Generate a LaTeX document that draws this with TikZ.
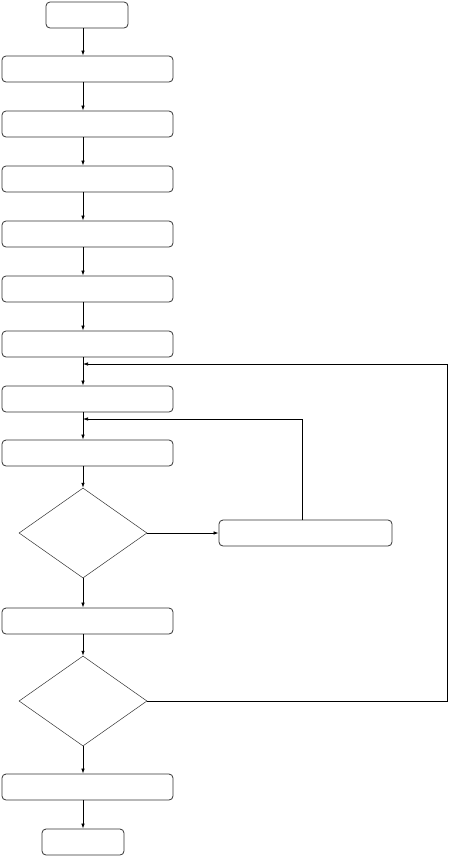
\documentclass[tikz,border=0pt]{standalone}
\usetikzlibrary{shapes.geometric,arrows.meta}
\begin{document}
\begin{tikzpicture}[x=1pt,y=-1pt,
  procbox/.style={draw=black!80,line width=0.8pt,rounded corners=4pt,minimum width=171pt,minimum height=26pt,inner sep=0pt},
  termbox/.style={procbox,minimum width=82pt},
  decbox/.style={draw=black!80,line width=0.5pt,diamond,aspect=1.42,minimum width=128pt,minimum height=90pt,inner sep=0pt},
  flow/.style={line width=0.7pt,-{Latex[length=5pt,width=3.5pt]}}]
\useasboundingbox (0,0) rectangle (448,857);
\node[termbox] (s) at (87,15) {};
\node[procbox] (b1) at (87.5,69) {};
\node[procbox] (b2) at (87.5,124) {};
\node[procbox] (b3) at (87.5,179) {};
\node[procbox] (b4) at (87.5,234) {};
\node[procbox] (b5) at (87.5,289) {};
\node[procbox] (b6) at (87.5,344) {};
\node[procbox] (b7) at (87.5,399) {};
\node[procbox] (b8) at (87.5,453) {};
\node[decbox] (d1) at (83,533) {};
\node[procbox,minimum width=173pt] (sb) at (305.5,533) {};
\node[procbox] (b9) at (87.5,621) {};
\node[decbox] (d2) at (83,701) {};
\node[procbox] (b10) at (87.5,787) {};
\node[termbox] (e) at (83,842) {};
\coordinate (j1) at (83,364);
\coordinate (j2) at (83,419);
\coordinate (r1) at (447,701);
\coordinate (r2) at (447,364);
\coordinate (t1) at (302,520);
\coordinate (t2) at (302,419);
\draw[flow] (s.south -| 83,0) -- (b1.north -| 83,0);
\draw[flow] (b1.south -| 83,0) -- (b2.north -| 83,0);
\draw[flow] (b2.south -| 83,0) -- (b3.north -| 83,0);
\draw[flow] (b3.south -| 83,0) -- (b4.north -| 83,0);
\draw[flow] (b4.south -| 83,0) -- (b5.north -| 83,0);
\draw[flow] (b5.south -| 83,0) -- (b6.north -| 83,0);
\draw[flow] (b6.south -| 83,0) -- (b7.north -| 83,0);
\draw[flow] (b7.south -| 83,0) -- (b8.north -| 83,0);
\draw[flow] (b8.south -| 83,0) -- (d1.north);
\draw[flow] (d1.east) -- (d1.east -| sb.west);
\draw[flow] (d1.south) -- (b9.north -| 83,0);
\draw[flow] (b9.south -| 83,0) -- (d2.north);
\draw[flow] (d2.south) -- (b10.north -| 83,0);
\draw[flow] (b10.south -| 83,0) -- (e.north);
\draw[flow] (t1) -- (t2) -- (j2);
\draw[flow] (d2.east) -- (r1) -- (r2) -- (j1);
\end{tikzpicture}
\end{document}
